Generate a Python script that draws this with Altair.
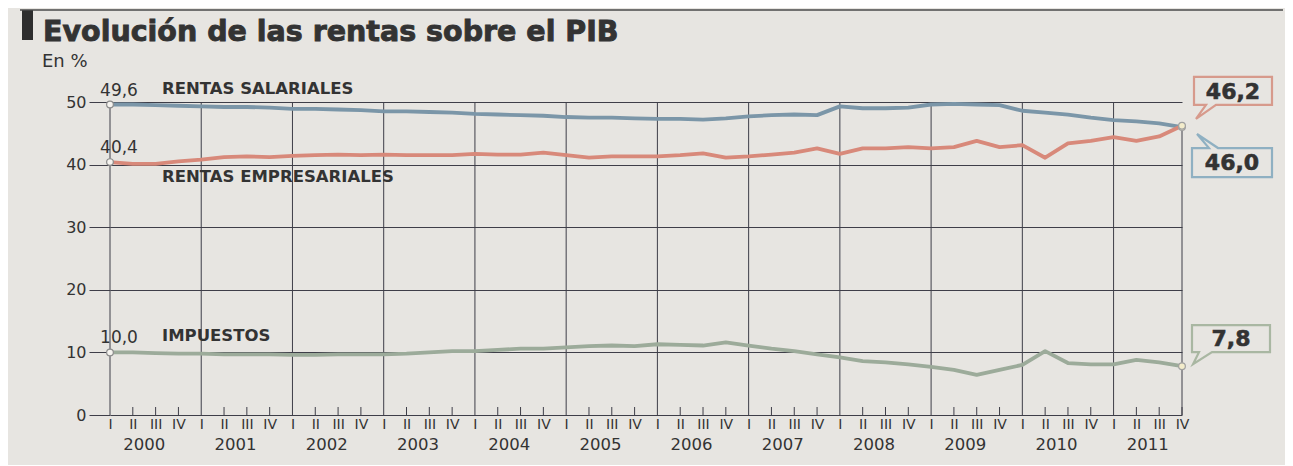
import altair as alt
import pandas as pd

# ---------------- data ----------------
years = list(range(2000, 2012))
quarter_names = ["I", "II", "III", "IV"]

salariales = [
    49.6, 49.6, 49.5, 49.4,
    49.3, 49.2, 49.2, 49.1,
    48.9, 48.9, 48.8, 48.7,
    48.5, 48.5, 48.4, 48.3,
    48.1, 48.0, 47.9, 47.8,
    47.6, 47.5, 47.5, 47.4,
    47.3, 47.3, 47.2, 47.4,
    47.7, 47.9, 48.0, 47.9,
    49.3, 49.0, 49.0, 49.1,
    49.6, 49.7, 49.6, 49.5,
    48.6, 48.3, 48.0, 47.5,
    47.1, 46.9, 46.6, 46.0,
]
empresariales = [
    40.4, 40.1, 40.1, 40.5,
    40.8, 41.2, 41.3, 41.2,
    41.4, 41.5, 41.6, 41.5,
    41.6, 41.5, 41.5, 41.5,
    41.7, 41.6, 41.6, 41.9,
    41.5, 41.1, 41.3, 41.3,
    41.3, 41.5, 41.8, 41.1,
    41.3, 41.6, 41.9, 42.6,
    41.7, 42.6, 42.6, 42.8,
    42.6, 42.8, 43.8, 42.8,
    43.1, 41.1, 43.4, 43.8,
    44.4, 43.8, 44.5, 46.2,
]
impuestos = [
    10.0, 10.0, 9.9, 9.8,
    9.8, 9.7, 9.7, 9.7,
    9.6, 9.6, 9.7, 9.7,
    9.7, 9.8, 10.0, 10.2,
    10.2, 10.4, 10.6, 10.6,
    10.8, 11.0, 11.1, 11.0,
    11.3, 11.2, 11.1, 11.6,
    11.1, 10.6, 10.2, 9.7,
    9.2, 8.6, 8.4, 8.1,
    7.7, 7.2, 6.4, 7.2,
    8.0, 10.2, 8.3, 8.1,
    8.1, 8.8, 8.4, 7.8,
]
series_names = ["RENTAS SALARIALES", "RENTAS EMPRESARIALES", "IMPUESTOS"]
series_colors = ["#7b96a8", "#d8897a", "#9cab9a"]
start_labels = ["49,6", "40,4", "10,0"]
end_labels = ["46,0", "46,2", "7,8"]
y_ticks = [0, 10, 20, 30, 40, 50]

title_text = "Evolución de las rentas sobre el PIB"
unit_text = "En %"

# ---------------- tables ----------------
all_series = [salariales, empresariales, impuestos]
n = len(years) * 4
rows = []
for name, vals in zip(series_names, all_series):
    for i, v in enumerate(vals):
        rows.append({"q": i, "v": v, "serie": name})
df = pd.DataFrame(rows)

grid_q = [4 * i for i in range(len(years))] + [n - 1]
grid_top = [salariales[0]] + [y_ticks[-1]] * (len(years) - 1) + [empresariales[-1]]
df_grid = pd.DataFrame({"q": grid_q, "v": [y_ticks[0]] * len(grid_q), "top": grid_top})
tick_q = [i for i in range(n) if i % 4 != 0]
df_ticks = pd.DataFrame({"q": tick_q, "v": [y_ticks[0]] * len(tick_q)})
df_years = pd.DataFrame({"q": [4 * i + 1.5 for i in range(len(years))], "t": [str(y) for y in years]})
df_start = pd.DataFrame({"q": [0] * 3, "v": [s[0] for s in all_series], "t": start_labels})
df_end = pd.DataFrame({"q": [n - 1] * 3, "v": [s[-1] for s in all_series]})

W, H = 1072, 313
FONT = "DejaVu Sans"
INK = "#333333"
GRID = "#3e3e48"

xs = alt.Scale(domain=[0, n - 1], nice=False, zero=False)
ys = alt.Scale(domain=[0, 50], nice=False)
AX_X = alt.Axis(
    values=list(range(n)), labelExpr="['I','II','III','IV'][datum.value % 4]",
    ticks=False, domain=False, grid=False, labelPadding=2, labelFontSize=14,
    labelColor=INK, labelFont=FONT, title=None, labelFlush=False, labelOverlap=False,
)
AX_Y = alt.Axis(
    values=y_ticks, tickSize=21, tickColor=GRID, grid=True, gridColor=GRID,
    gridWidth=1, domain=False, labelPadding=3, labelFontSize=16, labelColor=INK,
    labelFont=FONT, title=None,
)
X = alt.X("q:Q", scale=xs, axis=AX_X)
Y = alt.Y("v:Q", scale=ys, axis=AX_Y)

# vertical year gridlines
vgrid = alt.Chart(df_grid).mark_rule(color=GRID, strokeWidth=1).encode(
    x=X, y=Y, y2="top:Q"
)

# small quarter ticks pointing up
qticks = alt.Chart(df_ticks).mark_rule(color=GRID, strokeWidth=1, y2Offset=-8).encode(
    x=X, y=Y, y2="v:Q"
)

lines = alt.Chart(df).mark_line(strokeWidth=3.8, strokeJoin="round", interpolate="linear").encode(
    x=X, y=Y,
    color=alt.Color("serie:N", scale=alt.Scale(domain=series_names, range=series_colors), legend=None),
    detail="serie:N",
)

start_pts = alt.Chart(df_start).mark_point(
    filled=True, fill="#f5f3ef", stroke="#8c8c8c", strokeWidth=1.2, size=45, opacity=1
).encode(x=X, y=Y)
end_pts = alt.Chart(df_end).mark_point(
    filled=True, fill="#f3eccb", stroke="#a0a0a0", strokeWidth=1.2, size=45, opacity=1
).encode(x=X, y=Y)

start_txt = alt.Chart(df_start).mark_text(
    dx=9, dy=-14, fontSize=17, font=FONT, color=INK
).encode(x=X, y=Y, text="t:N")

year_txt = alt.Chart(df_years).mark_text(
    fontSize=16.5, font=FONT, color=INK, baseline="middle"
).encode(x=X, y=alt.value(H + 30), text="t:N")


def free_text(txt, x, y, size, weight="normal", align="left", baseline="middle", stroke_w=0.0):
    mk = dict(fontSize=size, fontWeight=weight, font=FONT, color=INK, align=align, baseline=baseline)
    if stroke_w > 0:
        mk.update(stroke=INK, strokeWidth=stroke_w)
    return alt.Chart(pd.DataFrame({"t": [txt]})).mark_text(**mk).encode(
        x=alt.value(x), y=alt.value(y), text="t:N"
    )


name_pos = [(52, -13), (52, 75), (52, 234)]
names = [free_text(nm, px, py, 16.5, weight="bold") for nm, (px, py) in zip(series_names, name_pos)]

title = free_text(title_text, -67, -61, 28.5, weight="bold", baseline="alphabetic", stroke_w=0.9)
unit = free_text(unit_text, -68, -40, 18)
bar = alt.Chart(pd.DataFrame({"a": [0]})).mark_rect(color="#2e2e2e").encode(
    x=alt.value(-88), x2=alt.value(-77), y=alt.value(-92), y2=alt.value(-62)
)
topline = alt.Chart(pd.DataFrame({"a": [0]})).mark_rule(color="#4a4a4a", strokeWidth=1.5).encode(
    x=alt.value(-90), x2=alt.value(W + 101), y=alt.value(-92)
)

# callouts (box + pointer) anchored at the end values
callout_paths = {
    "46,2": "M0.12,-0.49 L0.90,-0.49 L0.90,-0.21 L0.34,-0.21 L0.14,-0.07 L0.24,-0.21 L0.12,-0.21 Z",
    "46,0": "M0.10,0.21 L0.27,0.21 L0.15,0.07 L0.36,0.21 L0.90,0.21 L0.90,0.50 L0.10,0.50 Z",
    "7,8": "M0.10,-0.41 L0.88,-0.41 L0.88,-0.14 L0.30,-0.14 L0.11,-0.02 L0.17,-0.14 L0.10,-0.14 Z",
}
callout_style = {
    "46,2": ("#d79a8c", 51, -34),
    "46,0": ("#8fb0c2", 50, 36),
    "7,8": ("#a9b7a2", 49, -27),
}
callouts = []
for lab, vals in zip(end_labels, all_series):
    col, tdx, tdy = callout_style[lab]
    d = pd.DataFrame({"q": [n - 1], "v": [vals[-1]], "t": [lab]})
    callouts.append(
        alt.Chart(d).mark_point(
            shape=callout_paths[lab], size=40000, filled=False, stroke=col, strokeWidth=2.2, opacity=1
        ).encode(x=X, y=Y)
    )
    callouts.append(
        alt.Chart(d).mark_text(
            dx=tdx, dy=tdy, fontSize=22, fontWeight="bold", font=FONT, color=INK, baseline="middle",
            stroke=INK, strokeWidth=0.6,
        ).encode(x=X, y=Y, text="t:N")
    )

chart = alt.layer(
    vgrid, qticks, lines, start_pts, end_pts, start_txt, year_txt, *names,
    title, unit, bar, topline, *callouts
).properties(
    width=W, height=H,
    autosize=alt.AutoSizeParams(type="none"),
    padding={"left": 102, "top": 94, "right": 103, "bottom": 50},
    background="#e7e5e1",
).configure_view(stroke=None)

chart.save("out.html", embed_options={"renderer": "svg", "actions": False})
